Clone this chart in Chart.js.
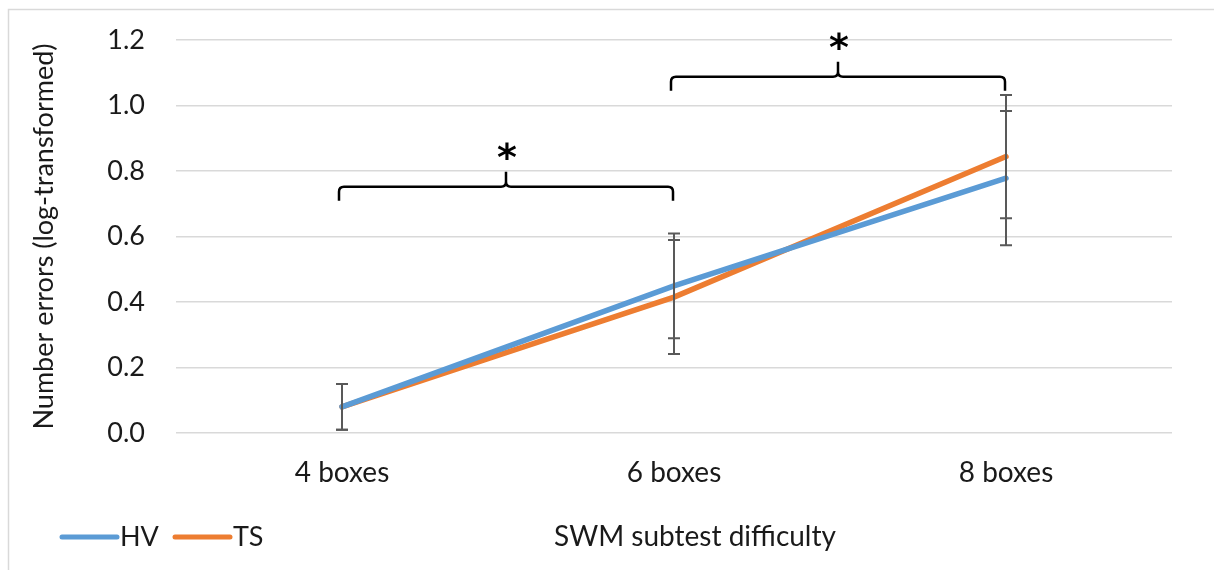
<!DOCTYPE html>
<html lang="en">
<head>
  <meta charset="UTF-8" />
  <title>SWM errors</title>
  <style>
    html, body { margin: 0; padding: 0; background: #fff; }
    #wrap { width: 1214px; height: 570px; }
  </style>
</head>
<body>
  <div id="wrap"><canvas id="myChart" width="1214" height="570"></canvas></div>

  <script src="https://cdn.jsdelivr.net/npm/chart.js"></script>
  <script>
    // data
    const categories = ['4 boxes', '6 boxes', '8 boxes'];
    const hvMean = [0.08, 0.449, 0.778];
    const hvErr = [0.07, 0.16, 0.205];
    const tsMean = [0.08, 0.415, 0.844];
    const tsErr = [0.07, 0.174, 0.188];
    const yTicks = [0, 0.2, 0.4, 0.6, 0.8, 1.0, 1.2];
    // significance braces: [from category, to category, y value of brace]
    const braces = [[0, 1, 0.752], [1, 2, 1.088]];

    const FONT = 'Lato, "Open Sans", sans-serif';
    const TEXT = '#1a1a1a';

    // error bars, braces, asterisks, frame and legend
    const extras = {
      id: 'extras',
      afterDatasetsDraw(chart) {
        const ctx = chart.ctx;
        const x = chart.scales.x, y = chart.scales.y;
        ctx.save();
        ctx.strokeStyle = '#595959';
        ctx.lineWidth = 2;
        const bar = (i, m, e) => {
          const px = x.getPixelForValue(i);
          const t = y.getPixelForValue(m + e), b = y.getPixelForValue(m - e);
          ctx.beginPath();
          ctx.moveTo(px, t); ctx.lineTo(px, b);
          ctx.moveTo(px - 6, t); ctx.lineTo(px + 6, t);
          ctx.moveTo(px - 6, b); ctx.lineTo(px + 6, b);
          ctx.stroke();
        };
        categories.forEach((c, i) => {
          bar(i, hvMean[i], hvErr[i]);
          bar(i, tsMean[i], tsErr[i]);
        });
        ctx.restore();
      },
      afterDraw(chart) {
        const ctx = chart.ctx;
        const x = chart.scales.x, y = chart.scales.y;
        ctx.save();
        // outer frame
        ctx.strokeStyle = '#d9d9d9';
        ctx.lineWidth = 1.5;
        ctx.strokeRect(8.5, 9.5, 1300, 700);

        // curly braces
        ctx.strokeStyle = '#000';
        ctx.lineWidth = 2.5;
        braces.forEach(([a, b, v]) => {
          const x1 = x.getPixelForValue(a) - 3, x2 = x.getPixelForValue(b) - 1;
          const h = y.getPixelForValue(v);
          const mid = (x1 + x2) / 2;
          const r = 5;
          ctx.beginPath();
          ctx.moveTo(x1, h + 14);
          ctx.lineTo(x1, h + r);
          ctx.quadraticCurveTo(x1, h, x1 + r, h);
          ctx.lineTo(mid - r, h);
          ctx.quadraticCurveTo(mid, h, mid, h - r);
          ctx.lineTo(mid, h - 15);
          ctx.moveTo(mid, h - r);
          ctx.quadraticCurveTo(mid, h, mid + r, h);
          ctx.lineTo(x2 - r, h);
          ctx.quadraticCurveTo(x2, h, x2, h + r);
          ctx.lineTo(x2, h + 14);
          ctx.stroke();
          ctx.fillStyle = '#000';
          ctx.font = 'bold 38px "DejaVu Sans", sans-serif';
          ctx.textAlign = 'center';
          ctx.textBaseline = 'middle';
          ctx.fillText('*', mid + 1, h - 27);
        });

        // x axis title
        ctx.fillStyle = TEXT;
        ctx.font = '28px ' + FONT;
        ctx.textAlign = 'center';
        ctx.textBaseline = 'middle';
        ctx.fillText('SWM subtest difficulty', 695, 537);

        // legend
        const items = [['HV', '#5B9BD5', 62], ['TS', '#ED7D31', 175]];
        ctx.font = '27px ' + FONT;
        ctx.lineCap = 'round';
        ctx.lineWidth = 5;
        ctx.textAlign = 'left';
        items.forEach(([label, col, lx]) => {
          ctx.strokeStyle = col;
          ctx.beginPath();
          ctx.moveTo(lx, 537); ctx.lineTo(lx + 55, 537);
          ctx.stroke();
          ctx.fillText(label, lx + 58, 537);
        });
        ctx.restore();
      }
    };

    const context = document.getElementById('myChart').getContext('2d');
    const myChart = new Chart(context, {
      type: 'line',
      data: {
        labels: categories,
        datasets: [
          { label: 'HV', data: hvMean, borderColor: '#5B9BD5', backgroundColor: '#5B9BD5',
            borderWidth: 5.5, pointRadius: 0, borderCapStyle: 'round', tension: 0 },
          { label: 'TS', data: tsMean, borderColor: '#ED7D31', backgroundColor: '#ED7D31',
            borderWidth: 5.5, pointRadius: 0, borderCapStyle: 'round', tension: 0 }
        ]
      },
      options: {
        responsive: false,
        animation: false,
        layout: { padding: { left: 0, right: 42, top: 40, bottom: 0 } },
        plugins: { legend: { display: false }, tooltip: { enabled: false } },
        scales: {
          x: {
            offset: true,
            grid: { display: false, drawTicks: false },
            border: { display: false },
            ticks: { color: TEXT, font: { family: FONT, size: 28 }, padding: 23 },
            afterFit: (s) => { s.height = 137; }
          },
          y: {
            min: 0, max: 1.2,
            afterBuildTicks: (s) => { s.ticks = yTicks.map(v => ({ value: v })); },
            grid: { color: '#d9d9d9', lineWidth: 1.5, drawTicks: false },
            border: { display: false },
            ticks: { color: TEXT, font: { family: FONT, size: 27 }, padding: 31,
                     callback: (v) => v.toFixed(1) },
            title: { display: true, text: 'Number errors (log-transformed)', color: TEXT,
                     font: { family: FONT, size: 27 }, padding: { top: 28 } },
            afterFit: (s) => { s.width = 176; s.paddingTop = 0; s.paddingBottom = 0; }
          }
        }
      },
      plugins: [extras]
    });
  </script>
</body>
</html>
